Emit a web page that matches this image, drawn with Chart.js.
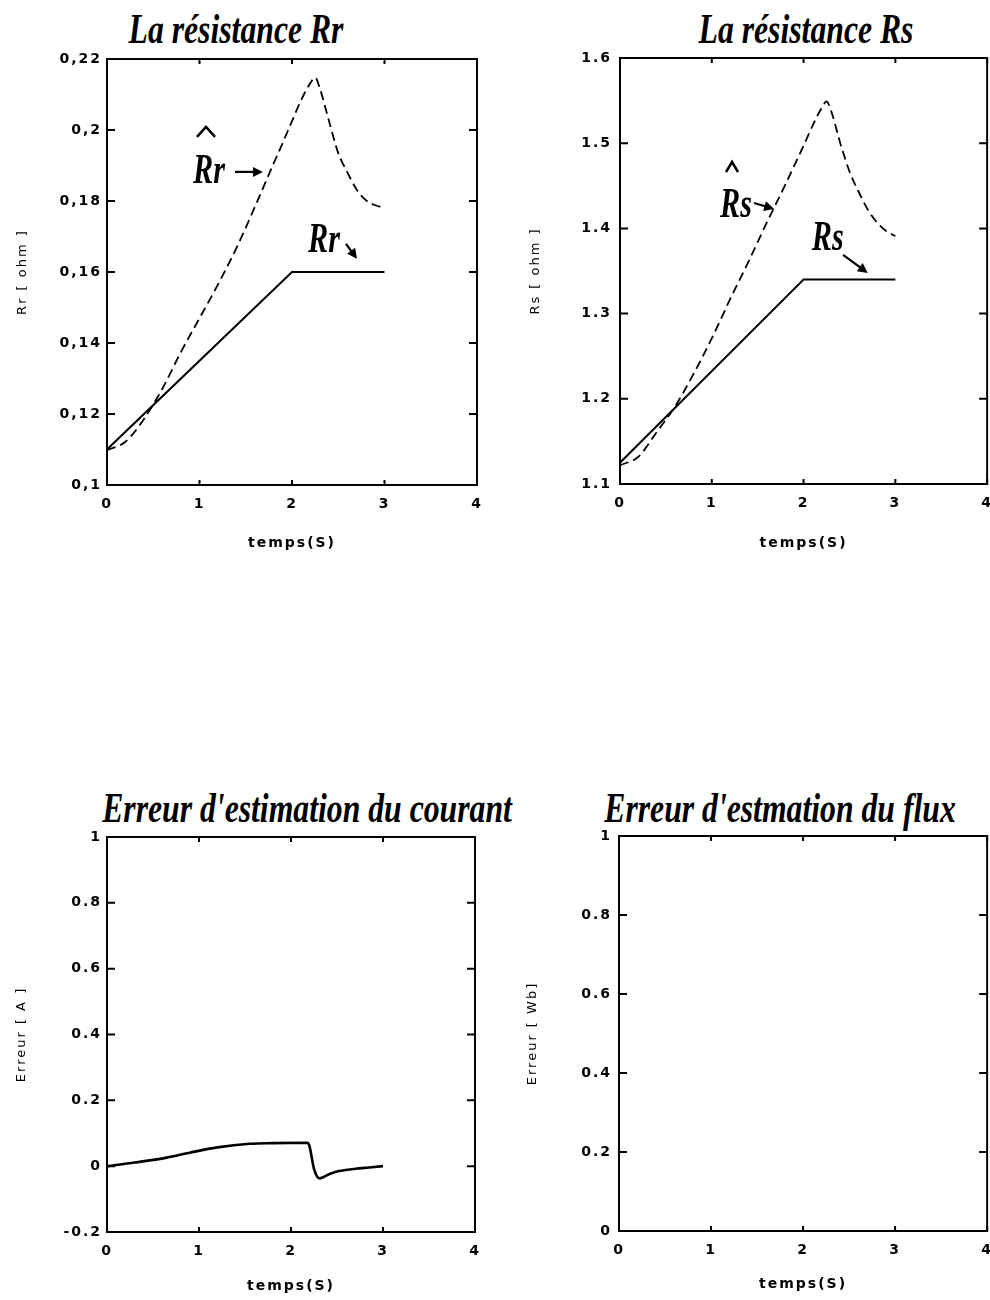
<!DOCTYPE html>
<html lang="fr">
<head>
<meta charset="utf-8">
<title>Estimation des résistances Rr et Rs</title>
<script src="https://cdn.jsdelivr.net/npm/chart.js@4.4.1/dist/chart.umd.min.js"></script>
<style>
  html, body { margin: 0; padding: 0; background: #fff; }
  body { position: relative; width: 990px; height: 1300px; overflow: hidden; }
  canvas { position: absolute; }
  .titre {
    position: absolute;
    font-family: "Liberation Serif", serif;
    font-weight: bold;
    font-style: italic;
    font-size: 42px;
    line-height: 42px;
    white-space: nowrap;
    color: #000;
    transform: translateX(-50%) scaleX(0.755);
  }
</style>
</head>
<body>
<div class="titre" style="left:236px; top:8px">La résistance Rr</div>
<div class="titre" style="left:806px; top:8px">La résistance Rs</div>
<div class="titre" style="left:307px; top:787px">Erreur d'estimation du courant</div>
<div class="titre" style="left:780px; top:787px">Erreur d'estmation du flux</div>

<canvas id="rrChart" width="500" height="560" style="left:0; top:0"></canvas>
<canvas id="rsChart" width="509" height="560" style="left:495px; top:0"></canvas>
<canvas id="courantChart" width="500" height="530" style="left:0; top:770px"></canvas>
<canvas id="fluxChart" width="509" height="530" style="left:495px; top:770px"></canvas>

<script>
// temps (s) des courbes estimées
const tEst = [0, 0.2, 0.4, 0.6, 0.8, 1.0, 1.2, 1.4, 1.6, 1.8, 1.9, 2.0, 2.1, 2.2, 2.25, 2.3, 2.4, 2.5, 2.6, 2.7, 2.8, 2.9, 3.0];
const rrEst = [0.1098, 0.1122, 0.1186, 0.1272, 0.1375, 0.1470, 0.1565, 0.1668, 0.1784, 0.1905, 0.1964, 0.2025, 0.2085, 0.2133, 0.2148, 0.2118, 0.2025, 0.1935, 0.1880, 0.1832, 0.1802, 0.1788, 0.1780];
const rsEst = [1.122, 1.132, 1.161, 1.191, 1.229, 1.271, 1.317, 1.361, 1.407, 1.451, 1.474, 1.497, 1.521, 1.542, 1.549, 1.538, 1.500, 1.467, 1.443, 1.422, 1.407, 1.397, 1.391];

// valeurs réelles : rampe jusqu'à 2 s puis palier
const tReel = [0, 2, 3];
const rrReel = [0.11, 0.16, 0.16];
const rsReel = [1.125, 1.34, 1.34];

// erreur d'estimation du courant
const tErr = [0, 0.3, 0.65, 0.9, 1.2, 1.55, 1.8, 2.18, 2.2, 2.25, 2.31, 2.36, 2.42, 2.52, 2.7, 2.85, 3.0];
const errCourant = [0, 0.011, 0.026, 0.041, 0.057, 0.068, 0.070, 0.071, 0.062, -0.008, -0.037, -0.032, -0.024, -0.015, -0.008, -0.004, 0];

// graduations de l'axe des temps
const tempsTicks = [0, 1, 2, 3, 4];

function pts(ts, vs) {
  return ts.map((t, i) => ({ x: t, y: vs[i] }));
}

const tickFont = { family: 'DejaVu Sans', size: 14, weight: 'bold' };
const labelFont = { family: 'DejaVu Sans', size: 13 };

// espacement des lettres façon imprimante
const spacing = {
  id: 'spacing',
  beforeLayout(chart) { chart.ctx.letterSpacing = '2px'; },
  beforeDraw(chart) { chart.ctx.letterSpacing = '2px'; }
};

// cadre et graduations intérieures sur les quatre côtés
const cadre = {
  id: 'cadre',
  afterDatasetsDraw(chart) {
    const { ctx, chartArea: a, scales: { x, y } } = chart;
    ctx.save();
    ctx.strokeStyle = '#000';
    ctx.lineWidth = 2;
    ctx.strokeRect(a.left, a.top, a.right - a.left, a.bottom - a.top);
    ctx.beginPath();
    y.ticks.forEach(tk => {
      const py = y.getPixelForValue(tk.value);
      ctx.moveTo(a.left, py); ctx.lineTo(a.left + 8, py);
      ctx.moveTo(a.right, py); ctx.lineTo(a.right - 8, py);
    });
    x.ticks.forEach(tk => {
      const px = x.getPixelForValue(tk.value);
      ctx.moveTo(px, a.bottom); ctx.lineTo(px, a.bottom - 5);
      ctx.moveTo(px, a.top); ctx.lineTo(px, a.top + 5);
    });
    ctx.stroke();
    ctx.restore();
  }
};

// étiquettes manuscrites avec flèches
const notes = {
  id: 'notes',
  afterDatasetsDraw(chart, args, opts) {
    const items = opts.items || [];
    const { ctx, scales: { x, y } } = chart;
    ctx.save();
    ctx.letterSpacing = '0px';
    ctx.fillStyle = '#000';
    ctx.strokeStyle = '#000';
    items.forEach(it => {
      if (it.text) {
        const px = x.getPixelForValue(it.at[0]);
        const py = y.getPixelForValue(it.at[1]);
        ctx.save();
        ctx.translate(px, py);
        ctx.scale(0.72, 1);
        ctx.font = 'italic bold 42px "Liberation Serif"';
        ctx.textBaseline = 'alphabetic';
        ctx.fillText(it.text, 0, 0);
        ctx.restore();
        if (it.hat) {
          const [dx, dy, w, h] = it.hat;
          ctx.lineWidth = 2.5;
          ctx.beginPath();
          ctx.moveTo(px + dx - w, py + dy + h / 2);
          ctx.lineTo(px + dx, py + dy - h / 2);
          ctx.lineTo(px + dx + w, py + dy + h / 2);
          ctx.stroke();
        }
      }
      if (it.from) {
        const x1 = x.getPixelForValue(it.from[0]), y1 = y.getPixelForValue(it.from[1]);
        const x2 = x.getPixelForValue(it.to[0]), y2 = y.getPixelForValue(it.to[1]);
        const ang = Math.atan2(y2 - y1, x2 - x1);
        ctx.lineWidth = 2.2;
        ctx.beginPath();
        ctx.moveTo(x1, y1);
        ctx.lineTo(x2 - 6 * Math.cos(ang), y2 - 6 * Math.sin(ang));
        ctx.stroke();
        ctx.beginPath();
        ctx.moveTo(x2, y2);
        ctx.lineTo(x2 - 10 * Math.cos(ang) + 5 * Math.sin(ang), y2 - 10 * Math.sin(ang) - 5 * Math.cos(ang));
        ctx.lineTo(x2 - 10 * Math.cos(ang) - 5 * Math.sin(ang), y2 - 10 * Math.sin(ang) + 5 * Math.cos(ang));
        ctx.closePath();
        ctx.fill();
      }
    });
    ctx.restore();
  }
};

function options(c) {
  return {
    responsive: false,
    animation: false,
    layout: { padding: c.pad },
    plugins: {
      legend: { display: false },
      tooltip: { enabled: false },
      notes: { items: c.notes || [] }
    },
    scales: {
      x: {
        type: 'linear',
        min: 0,
        max: 4,
        afterBuildTicks: s => { s.ticks = tempsTicks.map(v => ({ value: v })); },
        afterFit: s => { s.height = c.xHeight; },
        grid: { display: false, drawTicks: false },
        border: { display: false },
        ticks: { color: '#000', font: tickFont, padding: 11, callback: v => String(v) },
        title: { display: true, text: 'temps(S)', color: '#000', font: tickFont, padding: { top: 0, bottom: c.xTitlePad } }
      },
      y: {
        type: 'linear',
        min: c.yMin,
        max: c.yMax,
        afterFit: s => { s.width = c.yWidth; },
        grid: { display: false, drawTicks: false },
        border: { display: false },
        ticks: { color: '#000', font: tickFont, padding: c.yTickPad, stepSize: c.yStep, callback: c.fmt },
        title: { display: true, text: c.yTitle, color: '#000', font: labelFont, padding: { top: c.yTitlePad, bottom: 0 } }
      }
    }
  };
}

const dotFmt = v => String(Number(v.toFixed(2)));
const commaFmt = v => dotFmt(v).replace('.', ',');

const solid = { borderColor: '#000', borderWidth: 2, pointRadius: 0, fill: false };
const dashed = { borderColor: '#000', borderWidth: 1.8, borderDash: [9, 5], pointRadius: 0, fill: false, cubicInterpolationMode: 'monotone' };

new Chart(document.getElementById('rrChart'), {
  type: 'line',
  data: {
    datasets: [
      Object.assign({ label: 'Rr estimée', data: pts(tEst, rrEst) }, dashed),
      Object.assign({ label: 'Rr', data: pts(tReel, rrReel) }, solid)
    ]
  },
  options: options({
    pad: { left: 0, top: 59, right: 23, bottom: 0 },
    xHeight: 75, yWidth: 107, yTickPad: 5, xTitlePad: 8.6, yTitlePad: 15.2,
    yMin: 0.1, yMax: 0.22, yStep: 0.02, fmt: commaFmt, yTitle: 'Rr [ ohm ]',
    notes: [
      { text: 'Rr', at: [0.93, 0.1851], hat: [13, -51, 9, 10] },
      { from: [1.384, 0.1882], to: [1.686, 0.1882] },
      { text: 'Rr', at: [2.173, 0.1656] },
      { from: [2.584, 0.1679], to: [2.703, 0.1637] }
    ]
  }),
  plugins: [spacing, cadre, notes]
});

new Chart(document.getElementById('rsChart'), {
  type: 'line',
  data: {
    datasets: [
      Object.assign({ label: 'Rs estimée', data: pts(tEst, rsEst) }, dashed),
      Object.assign({ label: 'Rs', data: pts(tReel, rsReel) }, solid)
    ]
  },
  options: options({
    pad: { left: 0, top: 58, right: 13, bottom: 0 },
    xHeight: 76, yWidth: 125, yTickPad: 8, xTitlePad: 8.6, yTitlePad: 33.2,
    yMin: 1.1, yMax: 1.6, yStep: 0.1, fmt: dotFmt, yTitle: 'Rs [ ohm ]',
    notes: [
      { text: 'Rs', at: [1.09, 1.4134], hat: [12, -50, 6, 10] },
      { from: [1.46, 1.4298], to: [1.68, 1.4228] },
      { text: 'Rs', at: [2.09, 1.3746] },
      { from: [2.43, 1.3688], to: [2.70, 1.3477] }
    ]
  }),
  plugins: [spacing, cadre, notes]
});

new Chart(document.getElementById('courantChart'), {
  type: 'line',
  data: {
    datasets: [
      Object.assign({ label: 'Erreur courant', data: pts(tErr, errCourant) }, solid, { borderWidth: 2.6, cubicInterpolationMode: 'monotone' })
    ]
  },
  options: options({
    pad: { left: 0, top: 67, right: 25, bottom: 0 },
    xHeight: 68, yWidth: 107, yTickPad: 5, xTitlePad: 5.6, yTitlePad: 13.7,
    yMin: -0.2, yMax: 1, yStep: 0.2, fmt: dotFmt, yTitle: 'Erreur [ A ]'
  }),
  plugins: [spacing, cadre, notes]
});

new Chart(document.getElementById('fluxChart'), {
  type: 'line',
  data: { datasets: [] },
  options: options({
    pad: { left: 0, top: 66, right: 13, bottom: 0 },
    xHeight: 69, yWidth: 124, yTickPad: 7, xTitlePad: 7.6, yTitlePad: 30.2,
    yMin: 0, yMax: 1, yStep: 0.2, fmt: dotFmt, yTitle: 'Erreur [ Wb]'
  }),
  plugins: [spacing, cadre, notes]
});
</script>
</body>
</html>
